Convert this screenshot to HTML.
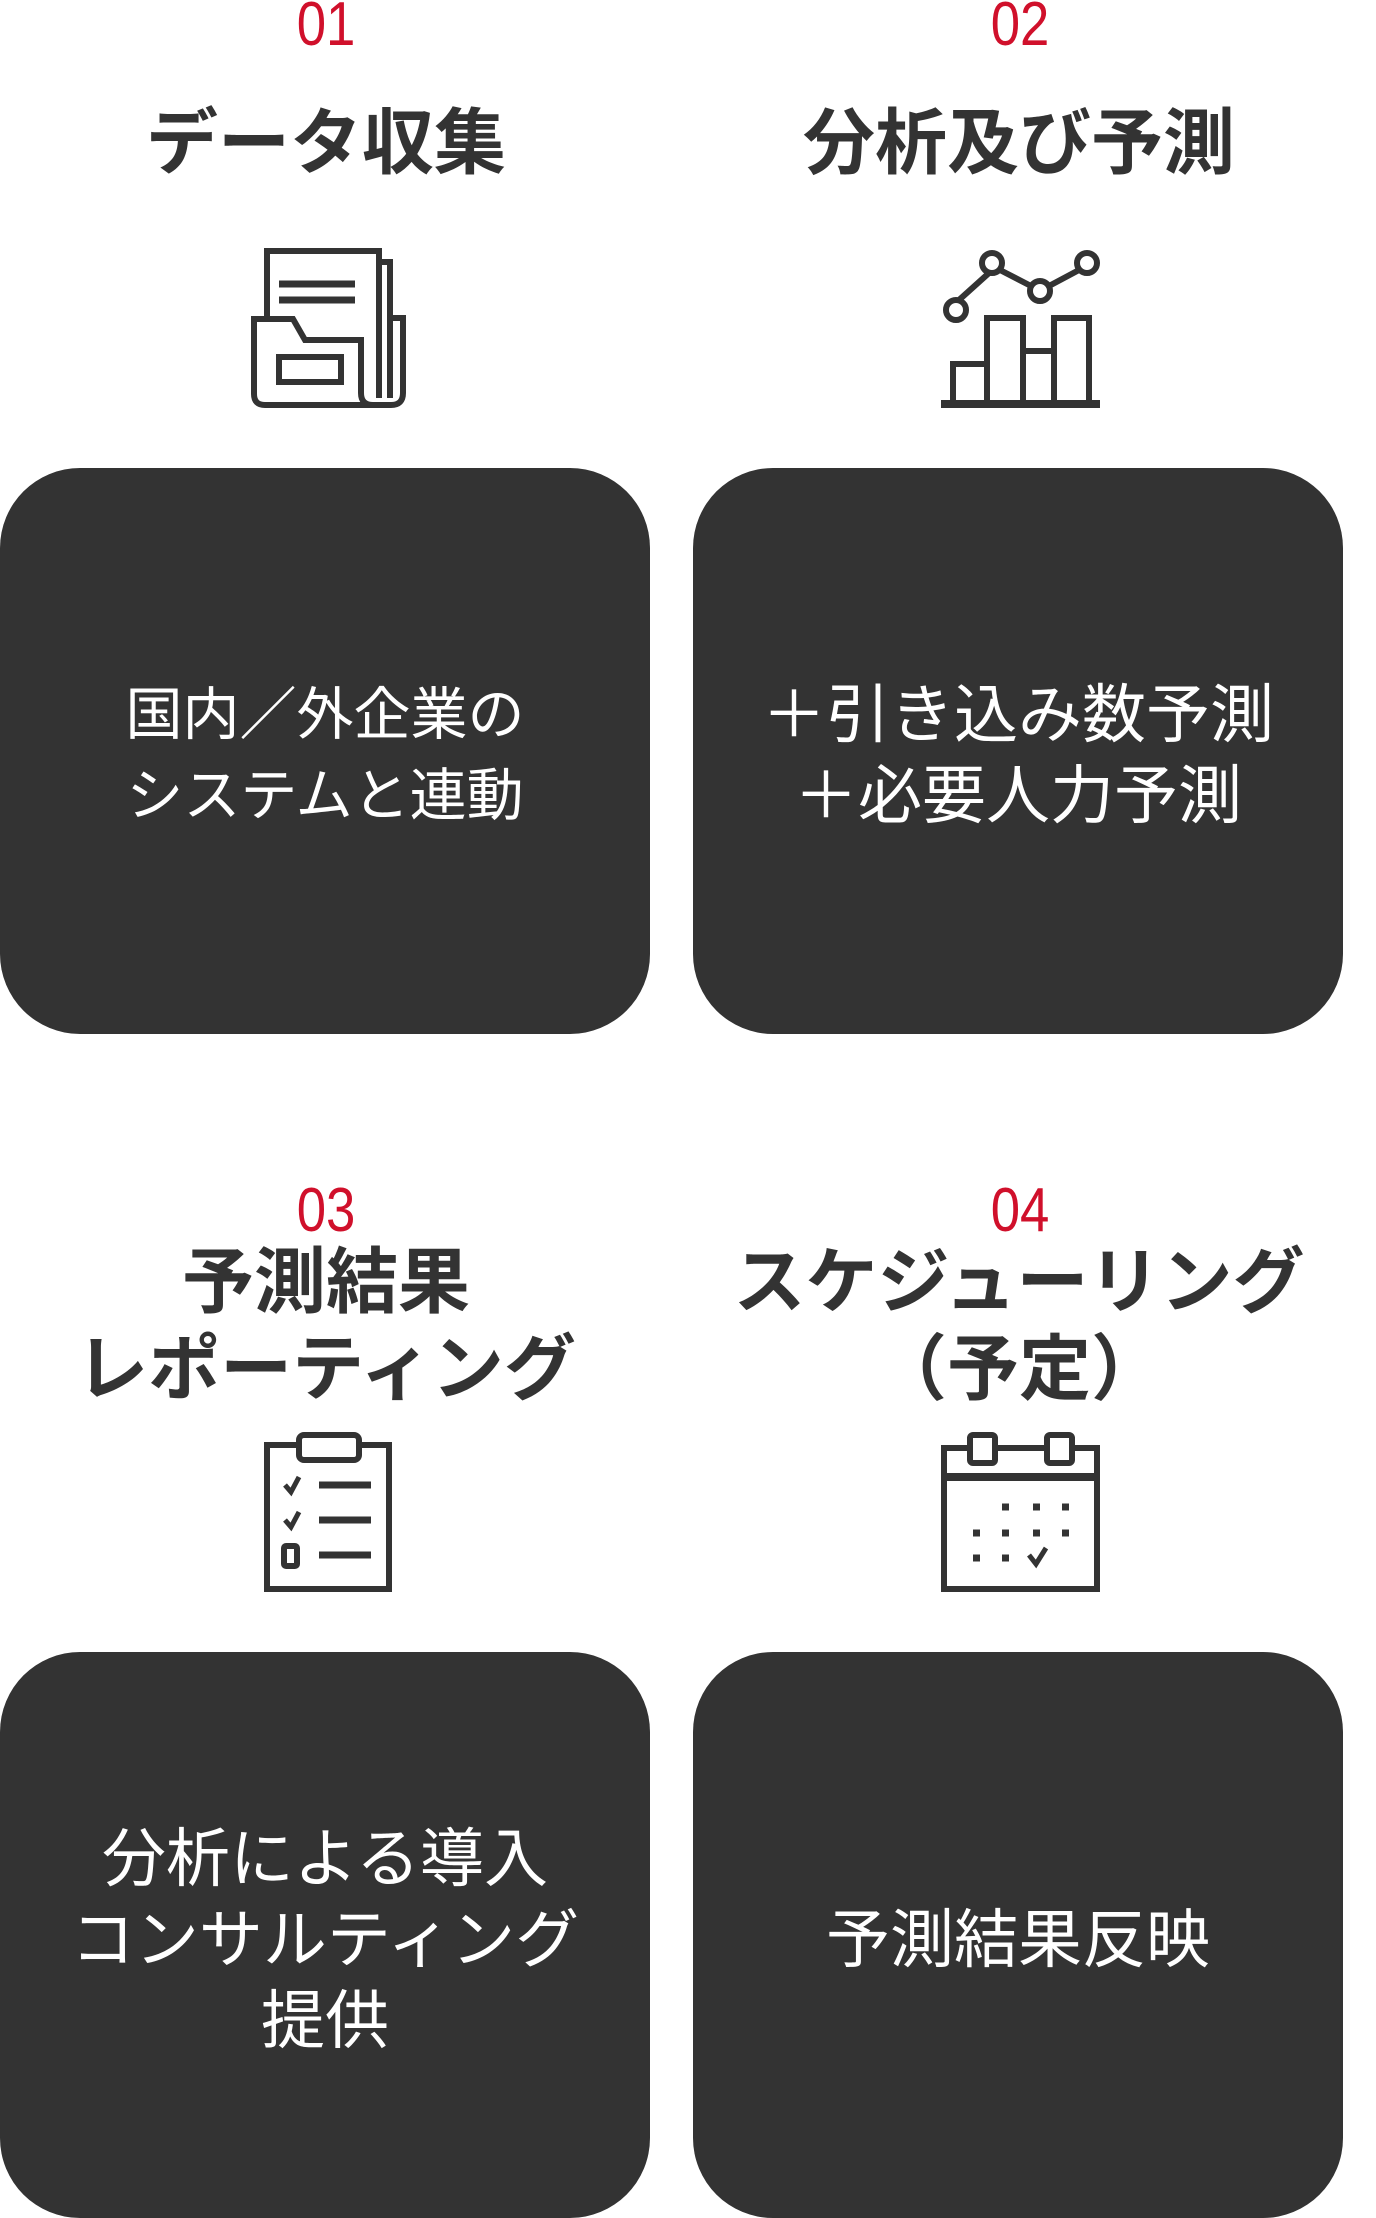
<!DOCTYPE html>
<html><head><meta charset="utf-8"><style>
html,body{margin:0;padding:0;background:#fff;}
body{width:1376px;height:2211px;position:relative;overflow:hidden;font-family:"Liberation Sans","Noto Sans CJK JP",sans-serif;}
.num{position:absolute;width:300px;text-align:center;color:#d0102b;font-size:62px;line-height:62px;transform:scaleX(0.85);}
.title{position:absolute;width:660px;text-align:center;color:#333;font-weight:bold;font-size:72px;line-height:87px;font-family:"Noto Sans CJK JP",sans-serif;}
.box{position:absolute;background:#333;border-radius:80px;width:650px;height:566px;display:flex;align-items:center;justify-content:center;text-align:center;color:#fff;font-size:64px;line-height:81px;font-family:"Noto Sans CJK JP",sans-serif;font-weight:400;}
svg{position:absolute;overflow:visible;}
</style></head><body>
<div class="num" style="left:176px;top:-6px">01</div>
<div class="num" style="left:870px;top:-6px">02</div>
<div class="title" style="left:-4px;top:93px">データ収集</div>
<div class="title" style="left:689px;top:93px">分析及び予測</div>

<svg style="left:251px;top:248px" width="156" height="160" viewBox="0 0 156 160" fill="none" stroke="#333" stroke-width="6">
<path d="M16 68 V3 H128 V150"/>
<path d="M128 14 H139 V150"/>
<path d="M139 70 H152 V145 Q152 157 140 157 H14 Q3 157 3 146 V71 H42 L54 92 H110 V145 Q110 157 122 157"/>
<path d="M28 36 H104 M28 52 H104" stroke-width="7"/>
<rect x="28" y="109" width="62" height="25"/>
</svg>

<svg style="left:941px;top:248px" width="159" height="160" viewBox="0 0 159 160" fill="none" stroke="#333" stroke-width="6">
<path d="M18 52 L48 25 M59 22 L90 38 M108 38 L138 22"/>
<circle cx="15" cy="62" r="10"/><circle cx="51" cy="15" r="10"/><circle cx="99" cy="43" r="10"/><circle cx="146" cy="15" r="10"/>
<path d="M12 156 V116 H46 V156 M46 156 V70 H82 V156 M82 103 H113 M113 156 V70 H148 V156"/>
<path d="M0 156 H159" stroke-width="8"/>
</svg>

<div class="box" style="left:0;top:468px;font-size:57px">国内／外企業の<br>システムと連動</div>
<div class="box" style="left:693px;top:468px">＋引き込み数予測<br>＋必要人力予測</div>

<div class="num" style="left:176px;top:1180px">03</div>
<div class="num" style="left:870px;top:1180px">04</div>
<div class="title" style="left:-4px;top:1232px">予測結果<br>レポーティング</div>
<div class="title" style="left:689px;top:1232px">スケジューリング<br>（予定）</div>

<svg style="left:264px;top:1432px" width="130" height="160" viewBox="0 0 130 160" fill="none" stroke="#333" stroke-width="6">
<path d="M34 13 H3 V157 H125 V13 H96"/>
<rect x="35" y="3" width="60" height="25" rx="5"/>
<path d="M21 53 L27 60 L35 45 M21 88 L27 95 L35 80" stroke-width="5"/>
<rect x="20" y="114" width="13" height="20" rx="2"/>
<path d="M55 53 H107 M55 88 H107 M55 123 H107" stroke-width="7"/>
</svg>

<svg style="left:941px;top:1432px" width="160" height="160" viewBox="0 0 160 160" fill="none" stroke="#333" stroke-width="6">
<path d="M28 16 H3 V157 H156 V16 H133 M55 16 H104"/>
<path d="M3 45 H156" stroke-width="8"/>
<rect x="29" y="3" width="25" height="28" rx="3"/><rect x="106" y="3" width="25" height="28" rx="3"/>
<g stroke-width="7"><path d="M61 75 H68 M92 75 H99 M121 75 H128 M32 101 H39 M61 101 H68 M92 101 H99 M121 101 H128 M32 126 H39 M61 126 H68"/></g>
<path d="M88 123 L95 132 L105 116" stroke-width="5"/>
</svg>

<div class="box" style="left:0;top:1652px">分析による導入<br>コンサルティング<br>提供</div>
<div class="box" style="left:693px;top:1652px">予測結果反映</div>
</body></html>
